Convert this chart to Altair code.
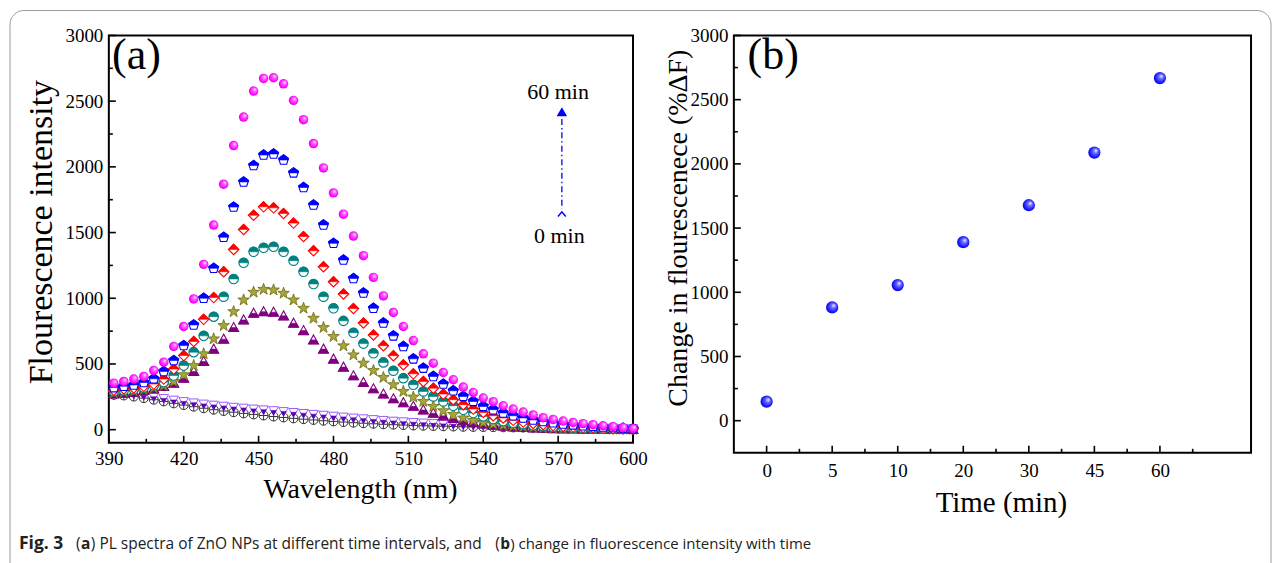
import json
import altair as alt
import pandas as pd

# ---------------- data ----------------
wavelength = [392, 396, 400, 404, 408, 412, 416, 420, 424, 428, 432, 436, 440, 444, 448, 452, 456,
              460, 464, 468, 472, 476, 480, 484, 488, 492, 496, 500, 504, 508, 512, 516, 520, 524,
              528, 532, 536, 540, 544, 548, 552, 556, 560, 564, 568, 572, 576, 580, 584, 588, 592,
              596, 600]

control = [265, 260, 252, 240, 228, 215, 200, 187, 175, 163, 152, 142, 133, 124, 116, 108, 100,
           93, 86, 80, 74, 68, 63, 58, 53, 49, 45, 41, 38, 35, 32, 30, 28, 26, 24, 22, 21, 20, 19,
           18, 17, 16, 15, 14, 13, 12, 11, 10, 9, 8, 8, 7, 6]
min0 = [285, 280, 272, 262, 250, 238, 226, 215, 205, 196, 188, 180, 172, 165, 158, 152, 146, 139,
        132, 125, 118, 111, 104, 97, 90, 84, 78, 72, 66, 61, 56, 52, 48, 44, 41, 38, 35, 33, 31, 29,
        27, 25, 23, 21, 20, 18, 17, 15, 14, 13, 12, 11, 10]
min5 = [272, 278, 287, 298, 310, 328, 354, 392, 443, 519, 613, 689, 777, 835, 886, 898, 894, 866,
        810, 754, 683, 613, 537, 476, 410, 359, 311, 271, 235, 205, 178, 150, 125, 105, 85, 68, 55,
        43, 34, 27, 21, 17, 13, 10, 8, 6, 5, 4, 3, 3, 2, 2, 2]
min10 = [280, 287, 295, 305, 318, 335, 367, 418, 488, 577, 691, 792, 898, 987, 1046, 1068, 1063,
         1038, 987, 924, 848, 777, 709, 638, 569, 506, 450, 397, 342, 291, 248, 215, 177, 144, 116,
         89, 70, 55, 43, 34, 27, 22, 18, 14, 11, 9, 7, 6, 5, 4, 3, 3, 2]
min20 = [292, 300, 308, 320, 338, 362, 412, 488, 590, 714, 860, 1012, 1147, 1270, 1354, 1384, 1392,
         1354, 1286, 1202, 1109, 1012, 924, 828, 738, 655, 582, 512, 449, 392, 342, 291, 253, 215,
         182, 152, 127, 101, 81, 65, 52, 42, 34, 27, 22, 18, 14, 11, 9, 7, 6, 5, 4]
min30 = [300, 310, 318, 330, 347, 385, 461, 564, 671, 840, 1005, 1202, 1372, 1524, 1632, 1696, 1688,
         1645, 1572, 1470, 1362, 1240, 1126, 1033, 922, 812, 721, 639, 563, 494, 425, 367, 316, 271,
         228, 190, 157, 131, 106, 89, 71, 58, 47, 38, 31, 25, 20, 16, 13, 10, 8, 6, 5]
min45 = [320, 330, 340, 359, 387, 443, 526, 640, 797, 1000, 1228, 1464, 1694, 1885, 2010, 2090, 2098,
         2052, 1954, 1843, 1710, 1558, 1418, 1291, 1150, 1040, 924, 812, 714, 633, 539, 468, 405,
         347, 296, 253, 215, 177, 152, 127, 106, 89, 74, 62, 52, 43, 36, 30, 25, 20, 16, 12, 8]
min60 = [354, 367, 385, 405, 451, 514, 633, 785, 995, 1258, 1557, 1868, 2162, 2379, 2577, 2673,
         2678, 2632, 2506, 2359, 2177, 1992, 1802, 1640, 1473, 1324, 1159, 1018, 892, 785, 678, 577,
         506, 435, 380, 324, 283, 241, 213, 182, 157, 134, 112, 91, 78, 66, 55, 46, 38, 30, 23, 15, 8]

time_labels = ["0", "5", "10", "20", "30", "45", "60"]
delta_f = [148, 882, 1056, 1390, 1678, 2088, 2668]

y_major = [0, 500, 1000, 1500, 2000, 2500, 3000]
y_minor = [250, 750, 1250, 1750, 2250, 2750]
wl_major = [390, 420, 450, 480, 510, 540, 570, 600]
wl_minor = [405, 435, 465, 495, 525, 555, 585]
t_major = [0, 1, 2, 3, 4, 5, 6]
t_minor = [0.5, 1.5, 2.5, 3.5, 4.5, 5.5, 6.5]

# arrow annotation (data units of panel a)
ann_x = 571.5
ann_top_text = 2515
ann_head = 2420
ann_line_top = 2365
ann_line_bottom = 1680
ann_chevron = 1640
ann_bottom_text = 1420

SERIF = "Liberation Serif"

# ---------------- shapes ----------------
PENT = "M0,-1L0.951,-0.309L0.588,0.809L-0.588,0.809L-0.951,-0.309Z"
PENT_TOP = "M0,-1L0.951,-0.309L0.855,0L-0.855,0L-0.951,-0.309Z"
DIAM = "M0,-1L1,0L0,1L-1,0Z"
DIAM_TOP = "M0,-1L1,0L-1,0Z"
CIRC_TOP = "M-1,0A1,1,0,0,1,1,0Z"
TRI_UP = "M0,-1L1,0.8L-1,0.8Z"
TRI_UP_BOT = "M-0.556,0L0.556,0L1,0.8L-1,0.8Z"
TRI_DN = "M-1,-0.8L1,-0.8L0,1Z"
TRI_DN_BOT = "M-0.556,0L0.556,0L0,1Z"
STAR = ("M0,-1L0.235,-0.324L0.951,-0.309L0.380,0.124L0.588,0.809L0,0.4L-0.588,0.809"
        "L-0.380,0.124L-0.951,-0.309L-0.235,-0.324Z")
PLUS = "M-1,0L1,0M0,-1L0,1"
CHEVRON = "M-1,0.6L0,-0.6L1,0.6"


def sphere(c_light, c_mid, c_dark):
    return alt.Gradient(gradient="radial", x1=0.65, y1=0.32, r1=0.0, x2=0.5, y2=0.5, r2=0.6,
                        stops=[alt.GradientStop(offset=0, color="white"),
                               alt.GradientStop(offset=0.3, color=c_light),
                               alt.GradientStop(offset=0.75, color=c_mid),
                               alt.GradientStop(offset=1, color=c_dark)])


def make_axis(values, label_pad, **extra):
    return alt.Axis(values=values, ticks=False, tickSize=0, domain=False, grid=False,
                    labelFont=SERIF, labelFontSize=19, labelColor="black", labelPadding=label_pad,
                    labelFlush=False, labelOverlap=False, title=None, **extra)


def title_text(txt, px, py, size, angle=0):
    kw = dict(font=SERIF, fontSize=size, align="center", baseline="alphabetic", color="black")
    if angle:
        kw["angle"] = angle
    return (alt.Chart(pd.DataFrame({"t": [txt]})).mark_text(**kw)
            .encode(x=alt.value(px), y=alt.value(py), text="t:N"))


# ---------------- panel (a) ----------------
WA, HA = 525, 408
xs_a = alt.Scale(domain=[390, 600], nice=False, zero=False)
ys_a = alt.Scale(domain=[-100, 3000], nice=False, zero=False)

X_A = alt.X("x:Q", scale=xs_a, axis=make_axis(wl_major, 7, format="d"))
Y_A = alt.Y("y:Q", scale=ys_a, axis=make_axis(y_major, 6, format="d"))


def series_df(vals):
    return pd.DataFrame({"x": wavelength, "y": vals})


def pts(vals, shape, size, fill, stroke=None, sw=0.0):
    kw = dict(shape=shape, size=size, filled=True, fill=fill, opacity=1, strokeWidth=sw)
    if stroke is not None:
        kw["stroke"] = stroke
    return alt.Chart(series_df(vals)).mark_point(**kw).encode(x=X_A, y=Y_A)


layers_a = []
# tick marks (inward)
layers_a.append(alt.Chart(pd.DataFrame({"y": y_major})).mark_rule(color="black", strokeWidth=1.6)
                .encode(y=Y_A, x=alt.value(0), x2=alt.value(7)))
layers_a.append(alt.Chart(pd.DataFrame({"y": y_minor})).mark_rule(color="black", strokeWidth=1.6)
                .encode(y=Y_A, x=alt.value(0), x2=alt.value(4)))
layers_a.append(alt.Chart(pd.DataFrame({"x": wl_major})).mark_rule(color="black", strokeWidth=1.6)
                .encode(x=X_A, y=alt.value(HA), y2=alt.value(HA - 7)))
layers_a.append(alt.Chart(pd.DataFrame({"x": wl_minor})).mark_rule(color="black", strokeWidth=1.6)
                .encode(x=X_A, y=alt.value(HA), y2=alt.value(HA - 4)))

# control: circle with plus
layers_a.append(pts(control, "circle", 81, "white", "#333333", 1.0))
layers_a.append(pts(control, PLUS, 81, "none", "#333333", 1.0))
# 0 min: down triangles
layers_a.append(pts(min0, TRI_DN, 90, "white", "#9b59ff", 1.0))
layers_a.append(pts(min0, TRI_DN_BOT, 90, "#5a00b0", "#5a00b0", 0.6))
# 5 min: up triangles, bottom filled
layers_a.append(pts(min5, TRI_UP, 100, "white", "#800080", 1.1))
layers_a.append(pts(min5, TRI_UP_BOT, 100, "#800080", "#800080", 0.6))
# 10 min: stars
layers_a.append(pts(min10, STAR, 150, "#a6a63a", "#6b6b10", 0.8))
# 20 min: circles, top half filled
layers_a.append(pts(min20, "circle", 90, "white", "#008080", 1.1))
layers_a.append(pts(min20, CIRC_TOP, 90, "#008080", "#008080", 0.6))
# 30 min: diamonds, top half filled
layers_a.append(pts(min30, DIAM, 110, "white", "#ff0000", 1.1))
layers_a.append(pts(min30, DIAM_TOP, 110, "#ff0000", "#ff0000", 0.6))
# 45 min: pentagons, top half filled
layers_a.append(pts(min45, PENT, 110, "white", "#0000ff", 1.1))
layers_a.append(pts(min45, PENT_TOP, 110, "#0000ff", "#0000ff", 0.6))
# 60 min: magenta spheres
layers_a.append(pts(min60, "circle", 90, sphere("#ff66ff", "#ff00ff", "#b000b0")))

# panel label
layers_a.append(alt.Chart(pd.DataFrame({"x": [391.3], "y": [2745], "t": ["(a)"]}))
                .mark_text(font=SERIF, fontSize=44, align="left", baseline="alphabetic", color="black")
                .encode(x=X_A, y=Y_A, text="t:N"))
# arrow annotation
ann_text = pd.DataFrame({"x": [ann_x - 1.5, ann_x - 1], "y": [ann_top_text, ann_bottom_text],
                         "t": ["60 min", "0 min"]})
layers_a.append(alt.Chart(ann_text).mark_text(font=SERIF, fontSize=22, align="center",
                                               baseline="alphabetic", color="black")
                .encode(x=X_A, y=Y_A, text="t:N"))
layers_a.append(alt.Chart(pd.DataFrame({"x": [ann_x], "y": [ann_line_top], "y2": [ann_line_bottom]}))
                .mark_rule(color="#0000ff", strokeWidth=1.3, strokeDash=[6, 3, 1.5, 3])
                .encode(x=X_A, y=Y_A, y2="y2:Q"))
layers_a.append(alt.Chart(pd.DataFrame({"x": [ann_x], "y": [ann_head]}))
                .mark_point(shape="triangle-up", size=110, filled=True, fill="#0000ff", opacity=1)
                .encode(x=X_A, y=Y_A))
layers_a.append(alt.Chart(pd.DataFrame({"x": [ann_x], "y": [ann_chevron]}))
                .mark_point(shape=CHEVRON, size=60, filled=False, stroke="#0000ff", strokeWidth=1.5,
                            opacity=1)
                .encode(x=X_A, y=Y_A))

# axis titles as text (page coords minus plot origin 108, 35)
layers_a.append(title_text("Wavelength (nm)", 360 - 108, 498 - 35, 28))
layers_a.append(title_text("Flourescence intensity", 51 - 108, 232 - 35, 34, angle=270))

# outer rounded border (figure frame)
layers_a.append(alt.Chart(pd.DataFrame({"x": [0]})).mark_rect(
    fill="transparent", stroke="#9a9a9a", strokeWidth=1, cornerRadius=14)
    .encode(x=alt.value(-99), x2=alt.value(1164), y=alt.value(-25), y2=alt.value(600)))

# caption segments
cap_y = 549 - 35
CAP_FONT = "Open Sans"
cap_parts = [
    (18, "Fig. 3", "bold", 17.5),
    (75, "(", "normal", 15.5),
    (80, "a", "bold", 15.5),
    (90, ") PL spectra of ZnO NPs at different time intervals, and", "normal", 15.5),
    (495, "(", "normal", 15.5),
    (500, "b", "bold", 15.5),
    (510, ") change in fluorescence intensity with time", "normal", 15.0),
]
for px, txt, wt, fs in cap_parts:
    layers_a.append(alt.Chart(pd.DataFrame({"t": [txt]})).mark_text(
        font=CAP_FONT, fontSize=fs, fontWeight=wt, align="left", baseline="alphabetic", color="#222222")
        .encode(x=alt.value(px - 108), y=alt.value(cap_y), text="t:N"))

panel_a = alt.layer(*layers_a).properties(width=WA, height=HA)

# ---------------- panel (b) ----------------
WB, HB = 518, 418
xs_b = alt.Scale(domain=[-0.5, 7.39], nice=False, zero=False)
ys_b = alt.Scale(domain=[-250, 3000], nice=False, zero=False)
label_expr = "%s[datum.value]" % json.dumps(time_labels)

X_B = alt.X("x:Q", scale=xs_b, axis=make_axis(t_major, 9, labelExpr=label_expr))
Y_B = alt.Y("y:Q", scale=ys_b, axis=make_axis(y_major, 6, format="d"))

layers_b = []
layers_b.append(alt.Chart(pd.DataFrame({"y": y_major})).mark_rule(color="black", strokeWidth=1.6)
                .encode(y=Y_B, x=alt.value(0), x2=alt.value(7)))
layers_b.append(alt.Chart(pd.DataFrame({"y": y_minor})).mark_rule(color="black", strokeWidth=1.6)
                .encode(y=Y_B, x=alt.value(0), x2=alt.value(4)))
layers_b.append(alt.Chart(pd.DataFrame({"x": t_major})).mark_rule(color="black", strokeWidth=1.6)
                .encode(x=X_B, y=alt.value(HB), y2=alt.value(HB - 7)))
layers_b.append(alt.Chart(pd.DataFrame({"x": t_minor})).mark_rule(color="black", strokeWidth=1.6)
                .encode(x=X_B, y=alt.value(HB), y2=alt.value(HB - 4)))
df_b = pd.DataFrame({"x": list(range(len(time_labels))), "y": delta_f})
layers_b.append(alt.Chart(df_b).mark_point(shape="circle", size=150, filled=True, opacity=1,
                                           fill=sphere("#7070ff", "#1010ff", "#0000a0"))
                .encode(x=X_B, y=Y_B))
layers_b.append(alt.Chart(pd.DataFrame({"x": [-0.29], "y": [2736], "t": ["(b)"]}))
                .mark_text(font=SERIF, fontSize=44, align="left", baseline="alphabetic", color="black")
                .encode(x=X_B, y=Y_B, text="t:N"))
layers_b.append(title_text("Time (min)", 1002 - 734, 512 - 35, 29))
layers_b.append(title_text("Change in flourescenece (%ΔF)", 687 - 734, 228 - 35, 28, angle=270))
panel_b = alt.layer(*layers_b).properties(width=WB, height=HB)

chart = alt.hconcat(panel_a, panel_b, spacing=101, bounds="flush").properties(
    padding=0, background="white"
).configure_view(stroke="black", strokeWidth=2).configure_axis(
    labelFont=SERIF, labelColor="black", labelFlush=False
).configure_concat(spacing=101)

chart.save("out.html", embed_options={"renderer": "svg", "actions": False})
